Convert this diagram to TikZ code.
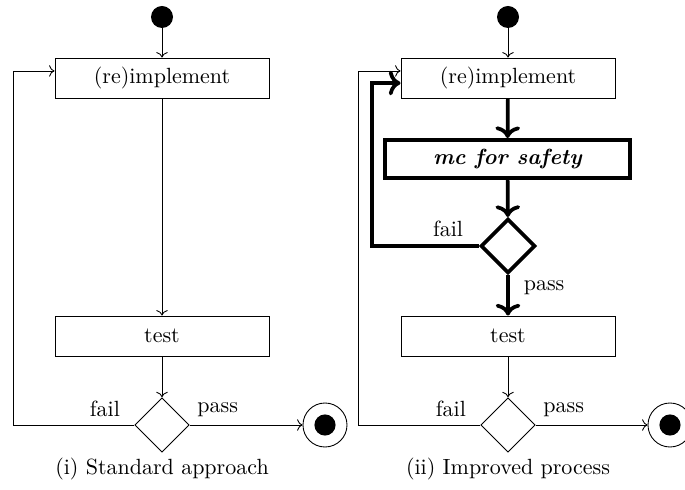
\documentclass[tikz,border=0pt]{standalone}
\usetikzlibrary{shapes.geometric,arrows.meta,calc}
\begin{document}
\begin{tikzpicture}[x=0.4545pt,y=-0.4545pt,
  activity/.style={draw, rectangle, minimum width=97.3pt, minimum height=18.2pt, inner sep=0pt},
  heavybox/.style={draw, rectangle, line width=1.7pt, minimum width=111.4pt, minimum height=17.3pt, inner sep=0pt, font=\bfseries\itshape},
  decision/.style={draw, diamond, aspect=1, minimum width=24.8pt, minimum height=24.8pt, inner sep=0pt},
  initial/.style={circle, fill=black, minimum size=10pt, inner sep=0pt},
  final/.style={circle, draw, minimum size=20pt, inner sep=0pt,
    path picture={\fill (path picture bounding box.center) circle (4.8pt);}},
  flow/.style={->},
  heavy/.style={->, line width=1.7pt},
  caption/.style={inner sep=0pt}]
\useasboundingbox (0,0) rectangle (685,490);

% ---- (i) standard approach ----
\node[initial]  (s1) at (162,17) {};
\node[activity] (impl1) at (162,78) {(re)implement};
\node[activity] (test1) at (162,336) {test};
\node[decision] (dec1)  at (162,425) {};
\node[final]    (end1)  at (325,425) {};
\coordinate (loop1) at (13,0);

\draw[flow] (s1) -- (impl1);
\draw[flow] (impl1) -- (test1);
\draw[flow] (test1) -- (dec1);
\draw[flow] (dec1.east) node[above right] {pass} -- (end1);
\draw[flow] (dec1.west) node[above left, xshift=-3pt] {fail}
  -- (dec1.west -| loop1) |- ([yshift=3.2pt]impl1.west);

\node[caption] (cap1) at (162,469) {(i) Standard approach};

% ---- (ii) improved process ----
\node[initial]  (s2) at (508,17) {};
\node[activity] (impl2) at (508,78) {(re)implement};
\node[heavybox] (mc)    at (507.5,159) {mc for safety};
\node[decision, line width=1.7pt] (chk) at (508,246) {};
\node[activity] (test2) at (508,336) {test};
\node[decision] (dec2)  at (508,425) {};
\node[final]    (end2)  at (670,425) {};
\coordinate (loop2) at (358,0);
\coordinate (loop3) at (372,0);

\draw[flow] (s2) -- (impl2);
\draw[heavy] (impl2) -- (mc);
\draw[heavy] (mc) -- (chk);
\draw[heavy] (chk) -- node[right, pos=0.3, xshift=3pt] {pass} (test2);
\draw[heavy] (chk.west) node[above left, xshift=-3pt] {fail}
  -- (chk.west -| loop3) |- ([yshift=-2.3pt]impl2.west);
\draw[flow] (test2) -- (dec2);
\draw[flow] (dec2.east) node[above right] {pass} -- (end2);
\draw[flow] (dec2.west) node[above left, xshift=-3pt] {fail}
  -- (dec2.west -| loop2) |- ([yshift=3.2pt]impl2.west);

\node[caption] (cap2) at (508,469) {(ii) Improved process};
\end{tikzpicture}
\end{document}
